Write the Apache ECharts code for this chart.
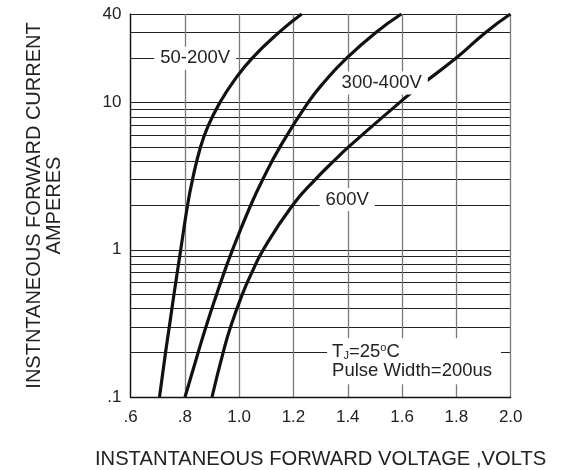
<!DOCTYPE html>
<html>
<head>
<meta charset="utf-8">
<script src="https://cdn.jsdelivr.net/npm/echarts@6/dist/echarts.min.js"></script>
<style>
html,body{margin:0;padding:0;background:#fff;}
#c{width:571px;height:470px;}
</style>
</head>
<body>
<div id="c"></div>
<script>
// Data (voltage V, current A)
var curve50_200 = [[0.7068,0.1],[0.7289,0.2],[0.7429,0.3],[0.7602,0.5],[0.7849,1],[0.8099,2],[0.8283,3],[0.8578,5],[0.8867,7],[0.9290,10],[0.9801,14],[1.0474,20],[1.1468,30],[1.2304,40]];
var curve300_400 = [[0.8007,0.1],[0.8489,0.2],[0.8780,0.3],[0.9174,0.5],[0.9447,0.7],[0.9756,1],[1.0422,2],[1.0868,3],[1.1505,5],[1.2536,10],[1.3191,14.2],[1.3950,20],[1.5036,30],[1.5975,40]];
var curve600 = [[0.9001,0.1],[0.9410,0.2],[0.9686,0.3],[1.0120,0.5],[1.0467,0.7],[1.0886,1],[1.1962,2],[1.2801,3],[1.3479,4],[1.4031,5],[1.5905,10],[1.6465,12.2],[1.7978,20],[1.9076,30],[1.9990,40]];
var yLabelValues = [0.1, 1, 10, 40];
var yLabelTexts = ['.1', '1', '10', '40'];
var yGridValues = [0.1,0.2,0.3,0.4,0.5,0.6,0.7,0.8,0.9,1,2,3,4,5,6,7,8,9,10,20,30,40];
var xTickTexts = {'0.6':'.6','0.8':'.8','1.0':'1.0','1.2':'1.2','1.4':'1.4','1.6':'1.6','1.8':'1.8','2.0':'2.0'};
var curveNames = ['50-200V', '300-400V', '600V'];
var annotations = [
  {name: '50-200V', coord: [0.838, 20]},
  {name: '300-400V', coord: [1.525, 13.6]},
  {name: '600V', coord: [1.398, 2.2]}
];
var noteCoord = [1.324, 0.175];

var FONT = '"Liberation Sans", Arial, Helvetica, sans-serif';
var chart = echarts.init(document.getElementById('c'), null, {renderer: 'canvas'});

function lineSeries(name, data, extra) {
  var s = {
    name: name,
    type: 'line',
    data: data,
    smooth: 0.5,
    symbol: 'none',
    lineStyle: {color: '#111', width: 3.2},
    z: 3
  };
  if (extra) { for (var k in extra) s[k] = extra[k]; }
  return s;
}

var markData = annotations.map(function (a) {
  return {
    name: a.name,
    coord: a.coord,
    symbol: 'rect',
    symbolSize: 0,
    label: {
      show: true,
      position: 'inside',
      formatter: a.name,
      color: '#222',
      fontFamily: FONT,
      fontSize: 18.5,
      backgroundColor: '#fff',
      padding: [2, 6, 2, 6]
    }
  };
});
markData.push({
  name: 'note',
  coord: noteCoord,
  symbol: 'rect',
  symbolSize: 0,
  label: {
    show: true,
    position: 'inside',
    align: 'left',
    verticalAlign: 'middle',
    formatter: '{a|T}{sub|J}{a|=25}{sup|o}{a|C}\n{a|Pulse Width=200us}',
    backgroundColor: '#fff',
    padding: [4, 9, 4, 5],
    rich: {
      a: {fontFamily: FONT, fontSize: 18.5, color: '#222', lineHeight: 19},
      sub: {fontFamily: FONT, fontSize: 11, color: '#222', lineHeight: 12, verticalAlign: 'bottom'},
      sup: {fontFamily: FONT, fontSize: 11, color: '#222', lineHeight: 12, verticalAlign: 'top'}
    }
  }
});

var option = {
  backgroundColor: '#fff',
  animation: false,
  grid: {left: 130.5, right: 60.3, top: 14, bottom: 73, containLabel: false, outerBoundsMode: 'none'},
  xAxis: {
    type: 'value',
    min: 0.6,
    max: 2.0,
    interval: 0.2,
    name: 'INSTANTANEOUS FORWARD VOLTAGE ,VOLTS',
    nameLocation: 'middle',
    nameGap: 52,
    nameTextStyle: {fontFamily: FONT, fontSize: 20.2, color: '#222'},
    axisLine: {show: true, onZero: false, lineStyle: {color: '#111', width: 1.3}},
    axisTick: {show: false},
    axisLabel: {
      margin: 12,
      fontFamily: FONT,
      fontSize: 17,
      color: '#222',
      formatter: function (v) { return xTickTexts[v.toFixed(1)] || v.toFixed(1); }
    },
    splitLine: {show: true, lineStyle: {color: '#7a7a7a', width: 1.3}}
  },
  yAxis: {
    type: 'log',
    logBase: 10,
    min: 0.1,
    max: 40,
    name: 'INSTNTANEOUS FORWARD CURRENT\nAMPERES',
    nameLocation: 'middle',
    nameGap: 66,
    nameTextStyle: {fontFamily: FONT, fontSize: 20, color: '#222', lineHeight: 20, align: 'center'},
    axisLine: {show: true, onZero: false, lineStyle: {color: '#111', width: 1.3}},
    axisTick: {show: false, customValues: yGridValues},
    axisLabel: {
      margin: 9,
      fontFamily: FONT,
      fontSize: 17,
      color: '#222',
      customValues: yLabelValues,
      formatter: function (v) {
        for (var i = 0; i < yLabelValues.length; i++) {
          if (Math.abs(v - yLabelValues[i]) < 1e-6 * yLabelValues[i]) return yLabelTexts[i];
        }
        return '';
      }
    },
    splitLine: {show: true, lineStyle: {color: '#222', width: 1.2}}
  },
  series: [
    lineSeries(curveNames[0], curve50_200),
    lineSeries(curveNames[1], curve300_400),
    lineSeries(curveNames[2], curve600, {
      markPoint: {z: 10, silent: true, itemStyle: {color: 'transparent'}, data: markData}
    })
  ]
};
chart.setOption(option);
</script>
</body>
</html>
